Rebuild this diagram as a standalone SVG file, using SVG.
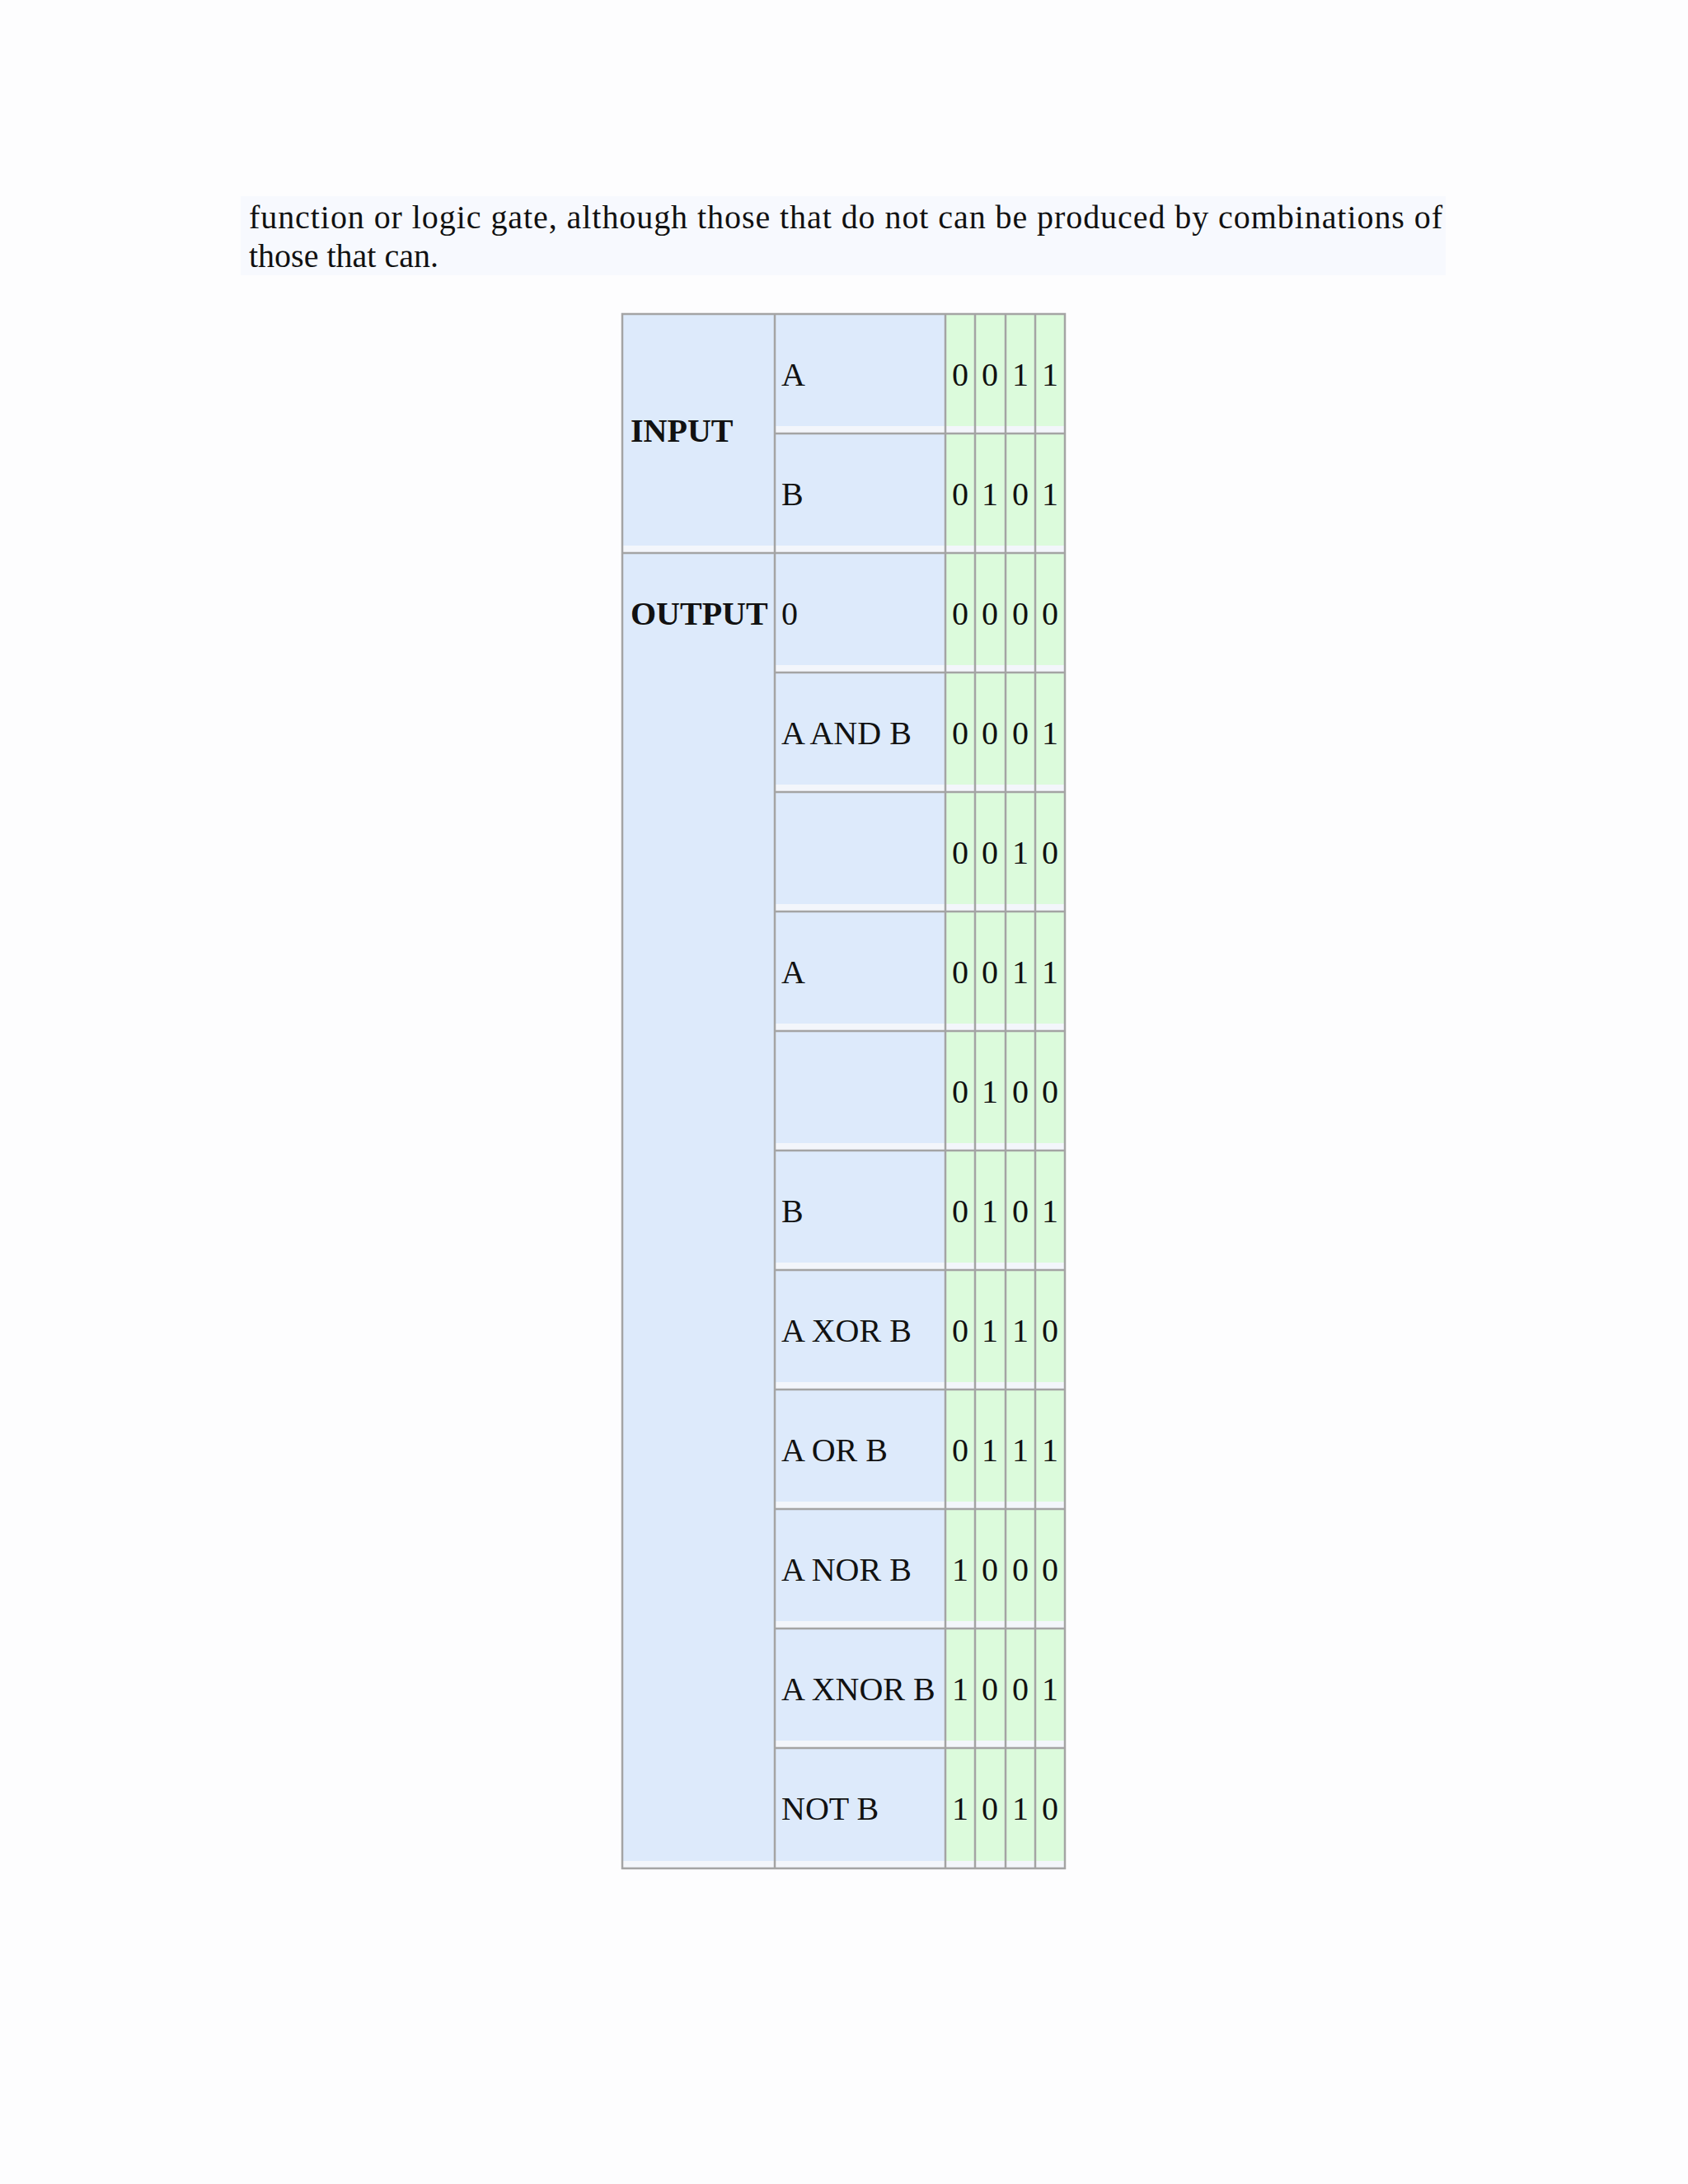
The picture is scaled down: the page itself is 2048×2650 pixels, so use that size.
<svg xmlns="http://www.w3.org/2000/svg" width="2048" height="2650" viewBox="0 0 2048 2650">
<style>
.t{font-family:"Liberation Serif","Times New Roman",serif;font-size:40px;fill:#111}
.b{font-weight:bold}
.bl{fill:#ddeafb}
.gr{fill:#dcfbdc}
.ln{stroke:#a4a4a4;stroke-width:2.5;fill:none}
.st{fill:#f3f6fb}
</style>
<rect width="2048" height="2650" fill="#fdfdfe"/>
<rect x="292" y="238" width="1462" height="96" fill="#f7f9fe"/>
<text class="t" x="302" y="277" textLength="1448" lengthAdjust="spacing">function or logic gate, although those that do not can be produced by combinations of</text>
<text class="t" x="302" y="324">those that can.</text>
<g id="table">
<rect class="bl" x="755" y="381" width="392" height="1886"/>
<rect class="gr" x="1147" y="381" width="145" height="1886"/>
<g id="strips">
<rect class="st" x="940" y="517" width="352" height="9"/>
<rect class="st" x="755" y="662" width="537" height="9"/>
<rect class="st" x="940" y="807" width="352" height="9"/>
<rect class="st" x="940" y="952" width="352" height="9"/>
<rect class="st" x="940" y="1097" width="352" height="9"/>
<rect class="st" x="940" y="1242" width="352" height="9"/>
<rect class="st" x="940" y="1387" width="352" height="9"/>
<rect class="st" x="940" y="1532" width="352" height="9"/>
<rect class="st" x="940" y="1677" width="352" height="9"/>
<rect class="st" x="940" y="1822" width="352" height="9"/>
<rect class="st" x="940" y="1967" width="352" height="9"/>
<rect class="st" x="940" y="2112" width="352" height="9"/>
<rect class="st" x="755" y="2258" width="537" height="9"/>
</g>
<g id="grid" class="ln">
<rect x="755" y="381" width="537" height="1886"/>
<line x1="940" y1="381" x2="940" y2="2267"/>
<line x1="1147" y1="381" x2="1147" y2="2267"/>
<line x1="1183" y1="381" x2="1183" y2="2267"/>
<line x1="1220" y1="381" x2="1220" y2="2267"/>
<line x1="1256" y1="381" x2="1256" y2="2267"/>
<line x1="940" y1="526" x2="1292" y2="526"/>
<line x1="755" y1="671" x2="1292" y2="671"/>
<line x1="940" y1="816" x2="1292" y2="816"/>
<line x1="940" y1="961" x2="1292" y2="961"/>
<line x1="940" y1="1106" x2="1292" y2="1106"/>
<line x1="940" y1="1251" x2="1292" y2="1251"/>
<line x1="940" y1="1396" x2="1292" y2="1396"/>
<line x1="940" y1="1541" x2="1292" y2="1541"/>
<line x1="940" y1="1686" x2="1292" y2="1686"/>
<line x1="940" y1="1831" x2="1292" y2="1831"/>
<line x1="940" y1="1976" x2="1292" y2="1976"/>
<line x1="940" y1="2121" x2="1292" y2="2121"/>
</g>
<text class="t b" x="765" y="536">INPUT</text>
<text class="t b" x="765" y="758">OUTPUT</text>
<g class="t">
<text x="948" y="468">A</text>
<text x="948" y="613">B</text>
<text x="948" y="758">0</text>
<text x="948" y="903">A AND B</text>
<text x="948" y="1193">A</text>
<text x="948" y="1483">B</text>
<text x="948" y="1628">A XOR B</text>
<text x="948" y="1773">A OR B</text>
<text x="948" y="1918">A NOR B</text>
<text x="948" y="2063">A XNOR B</text>
<text x="948" y="2208">NOT B</text>
</g>
<g class="t" text-anchor="middle">
<text x="1165" y="468">0</text><text x="1201" y="468">0</text><text x="1238" y="468">1</text><text x="1274" y="468">1</text>
<text x="1165" y="613">0</text><text x="1201" y="613">1</text><text x="1238" y="613">0</text><text x="1274" y="613">1</text>
<text x="1165" y="758">0</text><text x="1201" y="758">0</text><text x="1238" y="758">0</text><text x="1274" y="758">0</text>
<text x="1165" y="903">0</text><text x="1201" y="903">0</text><text x="1238" y="903">0</text><text x="1274" y="903">1</text>
<text x="1165" y="1048">0</text><text x="1201" y="1048">0</text><text x="1238" y="1048">1</text><text x="1274" y="1048">0</text>
<text x="1165" y="1193">0</text><text x="1201" y="1193">0</text><text x="1238" y="1193">1</text><text x="1274" y="1193">1</text>
<text x="1165" y="1338">0</text><text x="1201" y="1338">1</text><text x="1238" y="1338">0</text><text x="1274" y="1338">0</text>
<text x="1165" y="1483">0</text><text x="1201" y="1483">1</text><text x="1238" y="1483">0</text><text x="1274" y="1483">1</text>
<text x="1165" y="1628">0</text><text x="1201" y="1628">1</text><text x="1238" y="1628">1</text><text x="1274" y="1628">0</text>
<text x="1165" y="1773">0</text><text x="1201" y="1773">1</text><text x="1238" y="1773">1</text><text x="1274" y="1773">1</text>
<text x="1165" y="1918">1</text><text x="1201" y="1918">0</text><text x="1238" y="1918">0</text><text x="1274" y="1918">0</text>
<text x="1165" y="2063">1</text><text x="1201" y="2063">0</text><text x="1238" y="2063">0</text><text x="1274" y="2063">1</text>
<text x="1165" y="2208">1</text><text x="1201" y="2208">0</text><text x="1238" y="2208">1</text><text x="1274" y="2208">0</text>
</g>
</g>
</svg>
